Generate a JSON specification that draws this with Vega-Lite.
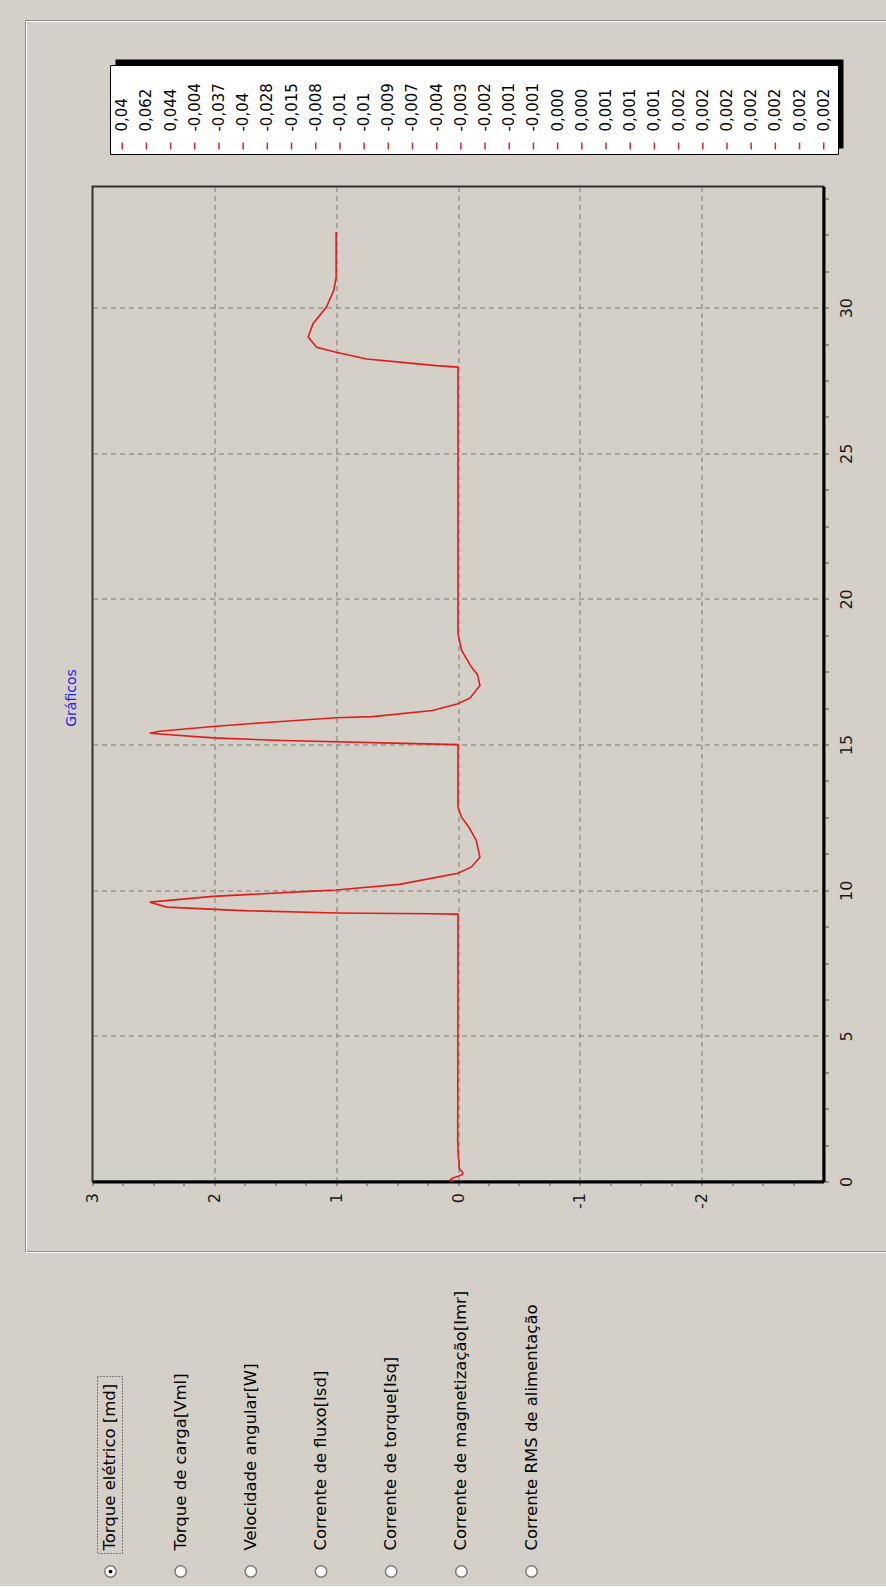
{
  "$schema": "https://vega.github.io/schema/vega-lite/v6.json",
  "background": "#d4d0c8",
  "padding": {"left": 24.5, "top": 19.5, "right": 0, "bottom": 0},
  "bounds": "flush",
  "spacing": 32,
  "config": {"font": "DejaVu Sans"},
  "vconcat": [
    {
      "width": 746,
      "height": 89,
      "view": {"stroke": null},
      "layer": [
        {
          "data": {"values": [{}]},
          "mark": {"type": "rect", "fill": null, "stroke": "#8c8c8c", "strokeWidth": 1},
          "encoding": {
            "x": {"datum": -3.998, "type": "quantitative", "scale": {"domain": [-1.228, 29.61], "nice": false, "zero": false}, "axis": null},
            "x2": {"datum": 32.17},
            "y": {"datum": 1.5056, "type": "quantitative", "scale": {"domain": [0, 1], "nice": false, "zero": false}, "axis": null},
            "y2": {"datum": -12.326}
          }
        },
        {
          "data": {"values": [{}]},
          "mark": {"type": "rect", "fill": null, "stroke": "white", "strokeWidth": 1, "xOffset": 1, "x2Offset": 1, "yOffset": 1, "y2Offset": 1},
          "encoding": {
            "x": {"datum": -3.998, "type": "quantitative"},
            "x2": {"datum": 32.17},
            "y": {"datum": 1.5056, "type": "quantitative"},
            "y2": {"datum": -12.326}
          }
        },
        {
          "data": {"values": [{}]},
          "mark": {"type": "rect", "fill": "black", "xOffset": 5, "x2Offset": 5, "yOffset": -6, "y2Offset": -6},
          "encoding": {
            "x": {"datum": -0.484, "type": "quantitative"},
            "x2": {"datum": 29.61},
            "y": {"datum": 0, "type": "quantitative"},
            "y2": {"datum": 1}
          }
        },
        {
          "data": {"values": [{}]},
          "mark": {"type": "rect", "fill": "white", "stroke": "black", "strokeWidth": 1},
          "encoding": {
            "x": {"datum": -0.484, "type": "quantitative"},
            "x2": {"datum": 29.61},
            "y": {"datum": 0, "type": "quantitative"},
            "y2": {"datum": 1}
          }
        },
        {
          "data": {"name": "legend"},
          "mark": {"type": "rule", "color": "#e0202a", "strokeWidth": 1.5},
          "encoding": {
            "x": {"field": "i", "type": "quantitative"},
            "y": {"datum": 0.135, "type": "quantitative"},
            "y2": {"datum": 0.056}
          }
        },
        {
          "data": {"name": "legend"},
          "mark": {"type": "text", "angle": 270, "align": "left", "baseline": "middle", "fontSize": 15, "font": "DejaVu Sans", "color": "black"},
          "encoding": {
            "x": {"field": "i", "type": "quantitative"},
            "y": {"datum": 0.258, "type": "quantitative"},
            "text": {"field": "val"}
          }
        }
      ]
    },
    {
      "width": 731,
      "height": 995,
      "view": {"stroke": "#303030", "strokeWidth": 2},
      "title": {"text": "Gráficos", "orient": "left", "anchor": "middle", "color": "#2424f0", "font": "DejaVu Sans", "fontSize": 14, "fontWeight": "normal", "offset": 6, "dx": -14},
      "data": {"values": [
        {"t": 0, "v": 0.04}, {"t": 0.06, "v": 0.062}, {"t": 0.12, "v": 0.044}, {"t": 0.18, "v": -0.004},
        {"t": 0.24, "v": -0.037}, {"t": 0.3, "v": -0.04}, {"t": 0.36, "v": -0.028}, {"t": 0.42, "v": -0.015},
        {"t": 0.48, "v": -0.008}, {"t": 0.54, "v": -0.01}, {"t": 0.6, "v": -0.01}, {"t": 0.66, "v": -0.009},
        {"t": 0.72, "v": -0.007}, {"t": 0.78, "v": -0.004}, {"t": 0.84, "v": -0.003}, {"t": 0.9, "v": -0.002},
        {"t": 0.96, "v": -0.001}, {"t": 1.02, "v": -0.001}, {"t": 1.08, "v": 0}, {"t": 1.14, "v": 0},
        {"t": 1.2, "v": 0.001}, {"t": 1.26, "v": 0.001}, {"t": 1.32, "v": 0.001}, {"t": 1.38, "v": 0.002},
        {"t": 1.74, "v": 0.002}, {"t": 9.18, "v": 0.0},
        {"t": 9.19, "v": 0.23}, {"t": 9.22, "v": 1.0}, {"t": 9.3, "v": 1.77}, {"t": 9.42, "v": 2.39},
        {"t": 9.59, "v": 2.53}, {"t": 9.79, "v": 2.01}, {"t": 9.97, "v": 1.19}, {"t": 10.01, "v": 1.0},
        {"t": 10.2, "v": 0.48}, {"t": 10.58, "v": 0.0}, {"t": 10.8, "v": -0.11}, {"t": 11.13, "v": -0.18},
        {"t": 11.71, "v": -0.15}, {"t": 12.16, "v": -0.09}, {"t": 12.5, "v": -0.03}, {"t": 12.85, "v": 0.0},
        {"t": 15.0, "v": 0.0},
        {"t": 15.05, "v": 0.53}, {"t": 15.14, "v": 1.44}, {"t": 15.23, "v": 2.01}, {"t": 15.39, "v": 2.53},
        {"t": 15.46, "v": 2.45}, {"t": 15.62, "v": 2.01}, {"t": 15.75, "v": 1.6}, {"t": 15.92, "v": 1.0},
        {"t": 15.96, "v": 0.7}, {"t": 16.17, "v": 0.21}, {"t": 16.4, "v": 0.0}, {"t": 16.6, "v": -0.1},
        {"t": 17.03, "v": -0.18}, {"t": 17.4, "v": -0.16}, {"t": 17.66, "v": -0.11}, {"t": 18.23, "v": -0.03},
        {"t": 18.8, "v": 0.0}, {"t": 27.96, "v": 0.0},
        {"t": 28.01, "v": 0.18}, {"t": 28.13, "v": 0.48}, {"t": 28.24, "v": 0.75}, {"t": 28.47, "v": 1.0},
        {"t": 28.64, "v": 1.16}, {"t": 28.99, "v": 1.23}, {"t": 29.45, "v": 1.19}, {"t": 30.02, "v": 1.08},
        {"t": 30.59, "v": 1.02}, {"t": 31.04, "v": 1.0}, {"t": 32.6, "v": 1.0}
      ]},
      "mark": {"type": "line", "color": "#e21c1c", "strokeWidth": 1.6},
      "encoding": {
        "x": {
          "field": "v", "type": "quantitative",
          "scale": {"domain": [-3, 3], "reverse": true, "nice": false, "zero": false},
          "axis": {
            "orient": "bottom", "title": null,
            "values": [-2.75, -2.5, -2.25, -2, -1.75, -1.5, -1.25, -1, -0.75, -0.5, -0.25, 0, 0.25, 0.5, 0.75, 1, 1.25, 1.5, 1.75, 2, 2.25, 2.5, 2.75, 3],
            "labelExpr": "datum.value % 1 === 0 ? '' + datum.value : ''",
            "labelAngle": 270, "labelAlign": "right", "labelBaseline": "middle", "labelPadding": 7,
            "labelFont": "DejaVu Sans", "labelFontSize": 16, "labelColor": "#1a1a1a",
            "labelOverlap": false, "labelFlush": false, "labelBound": false,
            "tickSize": 4, "tickColor": "#555555", "tickWidth": 1,
            "domainColor": "black", "domainWidth": 3,
            "grid": true, "gridColor": "#7a7a7a", "gridDash": [5, 4], "gridWidth": 1,
            "gridOpacity": {"condition": {"test": "datum.value % 1 === 0 && abs(datum.value) < 3", "value": 1}, "value": 0}
          }
        },
        "y": {
          "field": "t", "type": "quantitative",
          "scale": {"domain": [0, 34.16], "nice": false, "zero": false},
          "axis": {
            "orient": "right", "title": null,
            "values": [0, 1.25, 2.5, 3.75, 5, 6.25, 7.5, 8.75, 10, 11.25, 12.5, 13.75, 15, 16.25, 17.5, 18.75, 20, 21.25, 22.5, 23.75, 25, 26.25, 27.5, 28.75, 30, 31.25, 32.5, 33.75],
            "labelExpr": "datum.value % 5 === 0 ? '' + datum.value : ''",
            "labelAngle": 270, "labelAlign": "center", "labelBaseline": "middle", "labelPadding": 18,
            "labelFont": "DejaVu Sans", "labelFontSize": 16, "labelColor": "#1a1a1a",
            "labelOverlap": false, "labelFlush": false, "labelBound": false,
            "tickSize": 5, "tickColor": "#555555", "tickWidth": 1,
            "domainColor": "black", "domainWidth": 3,
            "grid": true, "gridColor": "#7a7a7a", "gridDash": [5, 4], "gridWidth": 1,
            "gridOpacity": {"condition": {"test": "datum.value % 5 === 0 && datum.value > 0", "value": 1}, "value": 0}
          }
        },
        "order": {"field": "t"}
      }
    },
    {
      "width": 460,
      "height": 372,
      "view": {"stroke": null},
      "data": {"values": [
        {"i": 0, "label": "Torque elétrico [md]", "sel": 1},
        {"i": 1, "label": "Torque de carga[Vml]", "sel": 0},
        {"i": 2, "label": "Velocidade angular[W]", "sel": 0},
        {"i": 3, "label": "Corrente de fluxo[Isd]", "sel": 0},
        {"i": 4, "label": "Corrente de torque[Isq]", "sel": 0},
        {"i": 5, "label": "Corrente de magnetização[Imr]", "sel": 0},
        {"i": 6, "label": "Corrente RMS de alimentação", "sel": 0}
      ]},
      "layer": [
        {
          "mark": {"type": "point", "shape": "circle", "filled": true, "fill": "white", "stroke": "#7a7a7a", "strokeWidth": 1.5, "size": 130, "opacity": 1},
          "encoding": {
            "x": {"field": "i", "type": "quantitative", "scale": {"domain": [-0.2565, 6.299], "nice": false, "zero": false}, "axis": null},
            "y": {"datum": 0.0376, "type": "quantitative", "scale": {"domain": [0, 1], "nice": false, "zero": false}, "axis": null}
          }
        },
        {
          "transform": [{"filter": "datum.sel == 1"}],
          "mark": {"type": "point", "shape": "circle", "filled": true, "color": "black", "size": 14, "opacity": 1},
          "encoding": {
            "x": {"field": "i", "type": "quantitative"},
            "y": {"datum": 0.0376, "type": "quantitative"}
          }
        },
        {
          "transform": [{"filter": "datum.sel == 1"}],
          "mark": {"type": "rect", "fill": null, "stroke": "#222222", "strokeWidth": 1, "strokeDash": [1, 2]},
          "encoding": {
            "x": {"datum": -0.1852, "type": "quantitative"},
            "x2": {"datum": 0.171},
            "y": {"datum": 0.562, "type": "quantitative"},
            "y2": {"datum": 0.086}
          }
        },
        {
          "mark": {"type": "text", "angle": 270, "align": "left", "baseline": "middle", "fontSize": 16.5, "font": "DejaVu Sans", "color": "black"},
          "encoding": {
            "x": {"field": "i", "type": "quantitative"},
            "y": {"datum": 0.094, "type": "quantitative"},
            "text": {"field": "label"}
          }
        }
      ]
    }
  ],
  "datasets": {
    "legend": [
      {"i": 0, "val": "0,04"}, {"i": 1, "val": "0,062"}, {"i": 2, "val": "0,044"}, {"i": 3, "val": "-0,004"},
      {"i": 4, "val": "-0,037"}, {"i": 5, "val": "-0,04"}, {"i": 6, "val": "-0,028"}, {"i": 7, "val": "-0,015"},
      {"i": 8, "val": "-0,008"}, {"i": 9, "val": "-0,01"}, {"i": 10, "val": "-0,01"}, {"i": 11, "val": "-0,009"},
      {"i": 12, "val": "-0,007"}, {"i": 13, "val": "-0,004"}, {"i": 14, "val": "-0,003"}, {"i": 15, "val": "-0,002"},
      {"i": 16, "val": "-0,001"}, {"i": 17, "val": "-0,001"}, {"i": 18, "val": "0,000"}, {"i": 19, "val": "0,000"},
      {"i": 20, "val": "0,001"}, {"i": 21, "val": "0,001"}, {"i": 22, "val": "0,001"}, {"i": 23, "val": "0,002"},
      {"i": 24, "val": "0,002"}, {"i": 25, "val": "0,002"}, {"i": 26, "val": "0,002"}, {"i": 27, "val": "0,002"},
      {"i": 28, "val": "0,002"}, {"i": 29, "val": "0,002"}
    ]
  }
}
